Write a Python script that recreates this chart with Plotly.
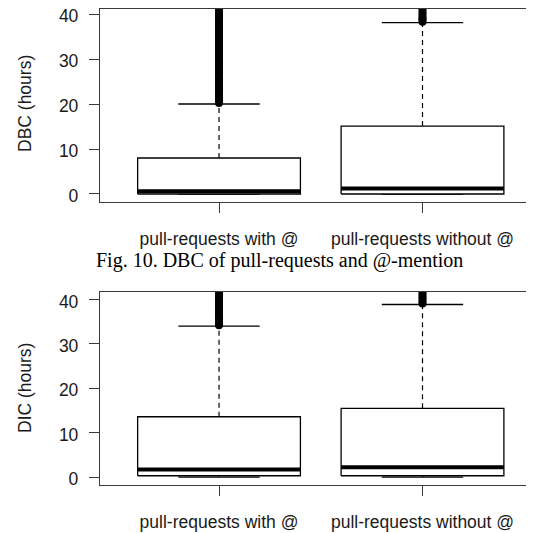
import plotly.graph_objects as go

# ---------------- data ----------------
categories = ["pull-requests with @", "pull-requests without @"]
positions = [1, 2]
y_ticks = [0, 10, 20, 30, 40]

# DBC (top panel)
dbc_lower = [0.0, 0.0]
dbc_q1 = [0.0, 0.0]
dbc_median = [0.62, 1.2]
dbc_q3 = [8.0, 15.1]
dbc_upper = [20.0, 38.1]
dbc_out_with = [20.2, 20.6, 21.0, 21.5, 22.0, 22.5, 23.0, 23.5, 24.0, 24.5, 25.0, 25.5,
                26.0, 26.5, 27.0, 27.5, 28.0, 28.5, 29.0, 29.5, 30.0, 30.5, 31.0, 31.5,
                32.0, 32.5, 33.0, 33.5, 34.0, 34.5, 35.0, 35.5, 36.0, 36.5, 37.0, 37.5,
                38.0, 38.5, 39.0, 39.5, 40.0, 40.5, 41.0, 41.5, 42.0, 42.5, 43.0]
dbc_out_without = [38.3, 38.7, 39.0, 39.5, 40.0, 40.5, 41.0, 41.5, 42.0, 42.5, 43.0]

# DIC (bottom panel)
dic_lower = [0.0, 0.0]
dic_q1 = [0.3, 0.3]
dic_median = [1.7, 2.2]
dic_q3 = [13.6, 15.5]
dic_upper = [34.0, 38.9]
dic_out_with = [34.2, 34.6, 35.0, 35.5, 36.0, 36.5, 37.0, 37.5, 38.0, 38.5, 39.0, 39.5,
                40.0, 40.5, 41.0, 41.5, 42.0, 42.5, 43.0]
dic_out_without = [39.1, 39.5, 40.0, 40.5, 41.0, 41.5, 42.0, 42.5, 43.0]

# ---------------- style ----------------
BOX_HALF = 0.4
CAP_HALF = 0.2
SANS = "Arial, 'Liberation Sans', sans-serif"
SERIF = "'Times New Roman', 'Liberation Serif', serif"
TXT = "#1a1a1a"
FRAME = "#3a3a3a"

fig = go.Figure()


def add_panel(xa, ya, lower, q1, med, q3, upper, outliers):
    for i, x in enumerate(positions):
        # whiskers (dashed)
        fig.add_trace(go.Scatter(x=[x, x], y=[q3[i], upper[i]], mode="lines",
                                 line=dict(color="black", width=1.2, dash="5px,4px"),
                                 xaxis=xa, yaxis=ya, showlegend=False, hoverinfo="skip"))
        if q1[i] > lower[i]:
            fig.add_trace(go.Scatter(x=[x, x], y=[lower[i], q1[i]], mode="lines",
                                     line=dict(color="black", width=1.2, dash="5px,4px"),
                                     xaxis=xa, yaxis=ya, showlegend=False, hoverinfo="skip"))
        # staples
        for v in (upper[i], lower[i]):
            fig.add_trace(go.Scatter(x=[x - CAP_HALF, x + CAP_HALF], y=[v, v], mode="lines",
                                     line=dict(color="black", width=1.3),
                                     xaxis=xa, yaxis=ya, showlegend=False, hoverinfo="skip"))
        # box
        fig.add_trace(go.Scatter(
            x=[x - BOX_HALF, x + BOX_HALF, x + BOX_HALF, x - BOX_HALF, x - BOX_HALF],
            y=[q1[i], q1[i], q3[i], q3[i], q1[i]],
            mode="lines", fill="toself", fillcolor="white",
            line=dict(color="black", width=1.3),
            xaxis=xa, yaxis=ya, showlegend=False, hoverinfo="skip"))
        # median
        fig.add_trace(go.Scatter(x=[x - BOX_HALF, x + BOX_HALF], y=[med[i], med[i]], mode="lines",
                                 line=dict(color="black", width=4),
                                 xaxis=xa, yaxis=ya, showlegend=False, hoverinfo="skip"))
        # outliers
        fig.add_trace(go.Scatter(x=[x] * len(outliers[i]), y=outliers[i], mode="markers",
                                 marker=dict(symbol="circle", size=8, color="black",
                                             line=dict(width=0)),
                                 xaxis=xa, yaxis=ya, showlegend=False, hoverinfo="skip"))


add_panel("x", "y", dbc_lower, dbc_q1, dbc_median, dbc_q3, dbc_upper,
          [dbc_out_with, dbc_out_without])
add_panel("x2", "y2", dic_lower, dic_q1, dic_median, dic_q3, dic_upper,
          [dic_out_with, dic_out_without])

# the page body has an 8px margin, so the figure is sized to fill the rest of the window
OFF = 8
W, H = 534 - OFF, 533 - OFF


def px_x(v):
    return (v - OFF) / W


def px_y(v):
    return min(1.0, max(0.0, 1 - (v - OFF) / H))


x_dom = [px_x(100), 1.0]
top_dom = [px_y(202), px_y(8.7)]
bot_dom = [px_y(485), px_y(291.7)]

xaxis_common = dict(range=[0.415, 2.548], tickmode="array", tickvals=positions,
                    ticktext=categories, ticks="outside", ticklen=10, tickwidth=1.3,
                    tickcolor=FRAME, showline=True, linecolor=FRAME, linewidth=1.3,
                    mirror=True, showgrid=False, zeroline=False, automargin=False,
                    ticklabelstandoff=11, ticklabeloverflow="allow",
                    tickfont=dict(family=SANS, size=17.5, color=TXT), domain=x_dom)
yaxis_common = dict(tickmode="array", tickvals=y_ticks,
                    ticks="outside", ticklen=10, tickwidth=1.3, tickcolor=FRAME,
                    showline=True, linecolor=FRAME, linewidth=1.3, mirror=False,
                    showgrid=False, zeroline=False, automargin=False,
                    ticklabelstandoff=7, ticklabeloverflow="allow", ticklabelshift=2,
                    tickfont=dict(family=SANS, size=17.5, color=TXT))

fig.update_layout(
    width=W, height=H,
    margin=dict(l=0, r=0, t=0, b=0),
    paper_bgcolor="white", plot_bgcolor="white",
    xaxis=dict(**xaxis_common, anchor="y"),
    yaxis=dict(**yaxis_common, range=[-1.78, 41.18], domain=top_dom, anchor="x"),
    xaxis2=dict(**xaxis_common, anchor="y2"),
    yaxis2=dict(**yaxis_common, range=[-1.78, 41.78], domain=bot_dom, anchor="x2"),
    annotations=[
        dict(text="DBC (hours)", x=px_x(25), y=px_y(104), xref="paper", yref="paper",
             textangle=-90, showarrow=False, xanchor="center", yanchor="middle",
             font=dict(family=SANS, size=17.5, color=TXT)),
        dict(text="DIC (hours)", x=px_x(25), y=px_y(388), xref="paper", yref="paper",
             textangle=-90, showarrow=False, xanchor="center", yanchor="middle",
             font=dict(family=SANS, size=17.5, color=TXT)),
        dict(text="Fig. 10. DBC of pull-requests and @-mention", x=px_x(279), y=px_y(260),
             xref="paper", yref="paper", showarrow=False, xanchor="center", yanchor="middle",
             font=dict(family=SERIF, size=20, color="black")),
    ],
)

fig.write_html("out.html")
